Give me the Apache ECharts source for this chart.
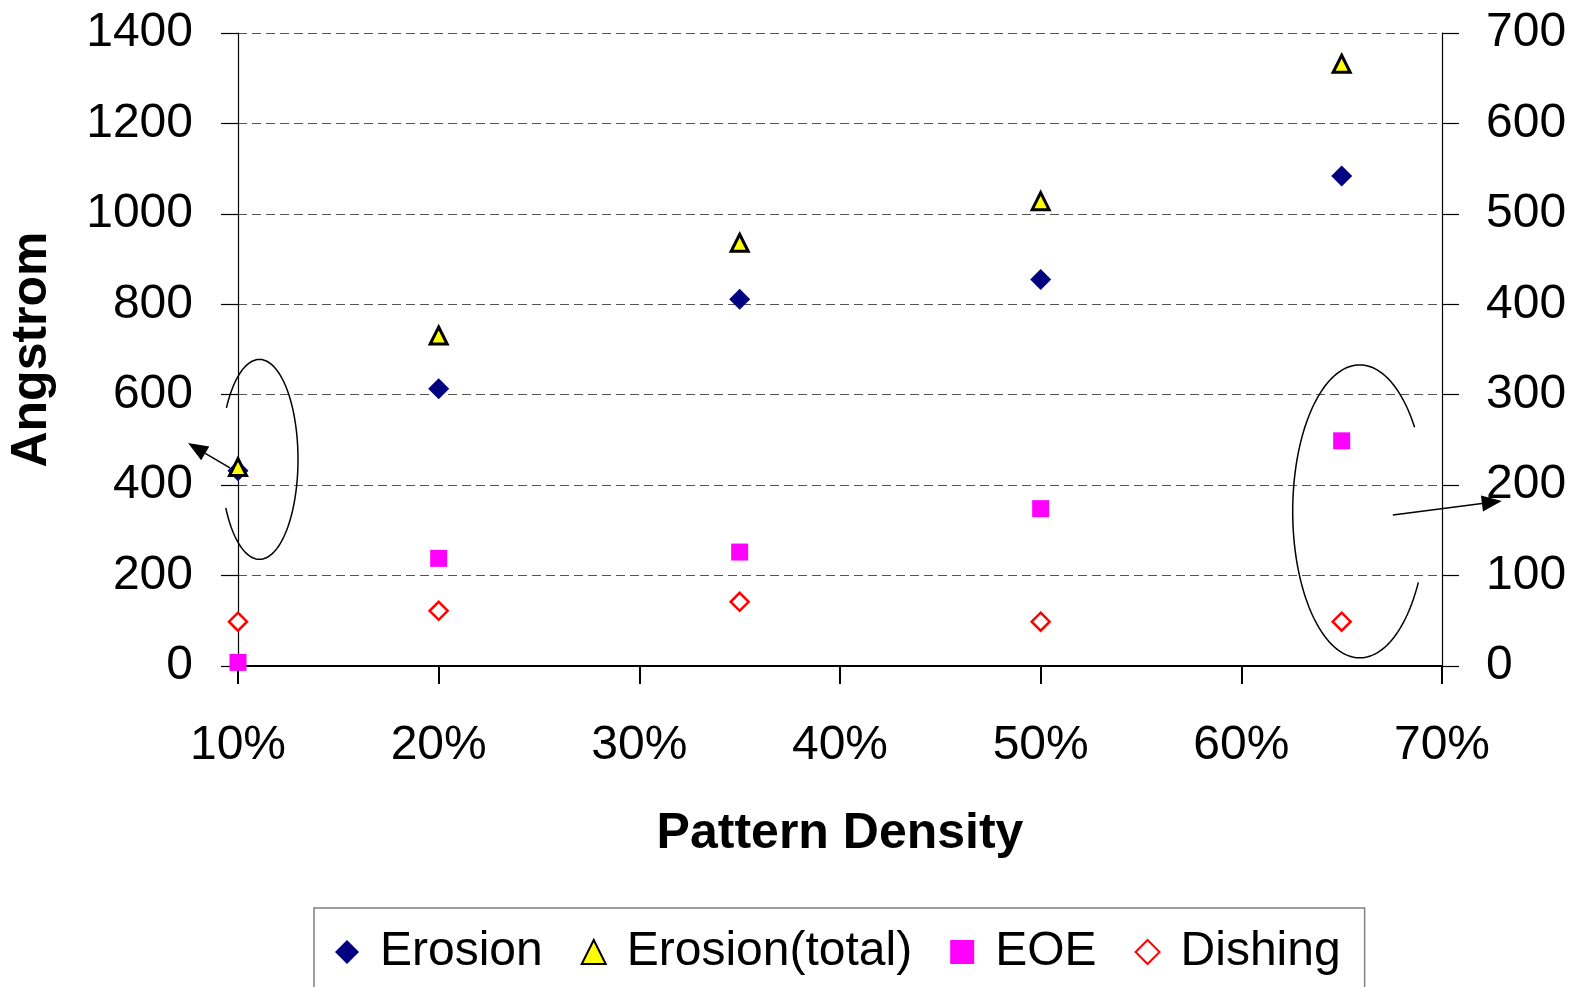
<!DOCTYPE html>
<html>
<head>
<meta charset="utf-8">
<script src="https://cdn.jsdelivr.net/npm/echarts@6/dist/echarts.min.js"></script>
<style>
  html, body { margin: 0; padding: 0; background: #fff; }
  #main { width: 1575px; height: 987px; }
</style>
</head>
<body>
<div id="main"></div>
<script>
  // pattern density (%)
  const density = [10, 20, 35, 50, 65];
  // left axis (Angstrom)
  const erosion = [432, 613, 811, 855, 1084];
  const erosionTotal = [440, 731, 936, 1028, 1332];
  // right axis
  const eoe = [4, 119, 126, 174, 249];
  const dishing = [49, 61, 71, 49, 49];

  const leftTicks = { min: 0, max: 1400, interval: 200 };
  const rightTicks = { min: 0, max: 700, interval: 100 };
  const xTicks = { min: 10, max: 70, interval: 10 };

  function pairs(ys) {
    return density.map((x, i) => [x, ys[i]]);
  }

  const font = 'Liberation Sans, Arial, sans-serif';

  const myChart = echarts.init(document.getElementById('main'));
  const option = {
    backgroundColor: '#fff',
    animation: false,
    grid: { left: 238, right: 133, top: 33, bottom: 321, containLabel: false, outerBoundsMode: 'none' },
    legend: {
      left: 314,
      top: 908,
      orient: 'horizontal',
      data: ['Erosion', 'Erosion(total)', 'EOE', 'Dishing'],
      itemWidth: 24,
      itemHeight: 24,
      itemGap: 38,
      padding: [16, 24, 40, 21],
      borderColor: '#808080',
      borderWidth: 1.5,
      textStyle: { fontFamily: font, fontSize: 48, lineHeight: 56, color: '#000', padding: [0, 0, 0, 16] }
    },
    xAxis: {
      type: 'value',
      min: xTicks.min, max: xTicks.max, interval: xTicks.interval,
      name: 'Pattern Density',
      nameLocation: 'middle',
      nameGap: 143,
      nameTextStyle: { fontFamily: font, fontSize: 50, fontWeight: 'bold', color: '#000' },
      axisLine: { show: true, onZero: false, lineStyle: { color: '#000', width: 2 } },
      axisTick: { show: true, inside: false, length: 18, lineStyle: { color: '#000', width: 2 } },
      axisLabel: { fontFamily: font, fontSize: 48, color: '#000', margin: 56, formatter: '{value}%' },
      splitLine: { show: false }
    },
    yAxis: [
      {
        type: 'value',
        position: 'left',
        min: leftTicks.min, max: leftTicks.max, interval: leftTicks.interval,
        name: 'Angstrom',
        nameLocation: 'middle',
        nameGap: 181,
        nameRotate: 90,
        nameTextStyle: { fontFamily: font, fontSize: 50, fontWeight: 'bold', color: '#000' },
        axisLine: { show: true, lineStyle: { color: '#000', width: 1.2 } },
        axisTick: { show: true, length: 17, lineStyle: { color: '#000', width: 1.2 } },
        axisLabel: { fontFamily: font, fontSize: 48, color: '#000', margin: 45, formatter: v => String(v) },
        splitLine: { show: true, lineStyle: { color: '#555', width: 1.2, type: [9, 5] } }
      },
      {
        type: 'value',
        position: 'right',
        min: rightTicks.min, max: rightTicks.max, interval: rightTicks.interval,
        axisLine: { show: true, lineStyle: { color: '#000', width: 1.2 } },
        axisTick: { show: true, length: 17, lineStyle: { color: '#000', width: 1.2 } },
        axisLabel: { fontFamily: font, fontSize: 48, color: '#000', margin: 44, formatter: v => String(v) },
        splitLine: { show: false }
      }
    ],
    series: [
      {
        name: 'Erosion',
        type: 'scatter',
        yAxisIndex: 0,
        symbol: 'diamond',
        symbolSize: 21,
        itemStyle: { color: '#000080', opacity: 1 },
        data: pairs(erosion)
      },
      {
        name: 'Erosion(total)',
        type: 'scatter',
        yAxisIndex: 0,
        symbol: 'triangle',
        symbolSize: 17,
        itemStyle: { color: '#ffff00', borderColor: '#000', borderWidth: 3, opacity: 1 },
        data: pairs(erosionTotal)
      },
      {
        name: 'EOE',
        type: 'scatter',
        yAxisIndex: 1,
        symbol: 'rect',
        symbolSize: 17,
        itemStyle: { color: '#ff00ff', opacity: 1 },
        data: pairs(eoe)
      },
      {
        name: 'Dishing',
        type: 'scatter',
        yAxisIndex: 1,
        symbol: 'diamond',
        symbolSize: 18,
        itemStyle: { color: '#fff', borderColor: '#ff0000', borderWidth: 2.5, opacity: 1 },
        data: pairs(dishing)
      }
    ]
  };
  myChart.setOption(option);

  // annotations: ellipses (data units, left axis) with open side, plus arrows
  const ellipses = [
    { cx: 11.07, cy: 457, rx: 1.92, ry: 221, from: -149, to: 151 },
    { cx: 65.9, cy: 342, rx: 3.34, ry: 324, from: 29, to: 325 }
  ];
  const arrows = [
    { from: [9.6, 438], to: [7.51, 493] },
    { from: [67.55, 334], to: [72.98, 365] }
  ];

  function px(p) {
    return myChart.convertToPixel({ xAxisIndex: 0, yAxisIndex: 0 }, p);
  }

  const graphics = [];
  ellipses.forEach(e => {
    const c = px([e.cx, e.cy]);
    const edge = px([e.cx + e.rx, e.cy + e.ry]);
    const rx = Math.abs(edge[0] - c[0]);
    const ry = Math.abs(edge[1] - c[1]);
    const pts = [];
    for (let a = e.from; a <= e.to; a += 2) {
      const t = a * Math.PI / 180;
      pts.push([c[0] + rx * Math.cos(t), c[1] + ry * Math.sin(t)]);
    }
    graphics.push({
      type: 'polyline',
      shape: { points: pts },
      style: { stroke: '#000', lineWidth: 1.5, fill: null }
    });
  });
  arrows.forEach(a => {
    const s = px(a.from);
    const t = px(a.to);
    const dx = t[0] - s[0], dy = t[1] - s[1];
    const len = Math.sqrt(dx * dx + dy * dy);
    const ux = dx / len, uy = dy / len;
    const headLen = 20, headW = 8;
    const bx = t[0] - ux * headLen, by = t[1] - uy * headLen;
    graphics.push({
      type: 'line',
      shape: { x1: s[0], y1: s[1], x2: bx, y2: by },
      style: { stroke: '#000', lineWidth: 1.5 }
    });
    graphics.push({
      type: 'polygon',
      shape: { points: [t, [bx - uy * headW, by + ux * headW], [bx + uy * headW, by - ux * headW]] },
      style: { fill: '#000' }
    });
  });
  myChart.setOption({ graphic: graphics });
</script>
</body>
</html>
